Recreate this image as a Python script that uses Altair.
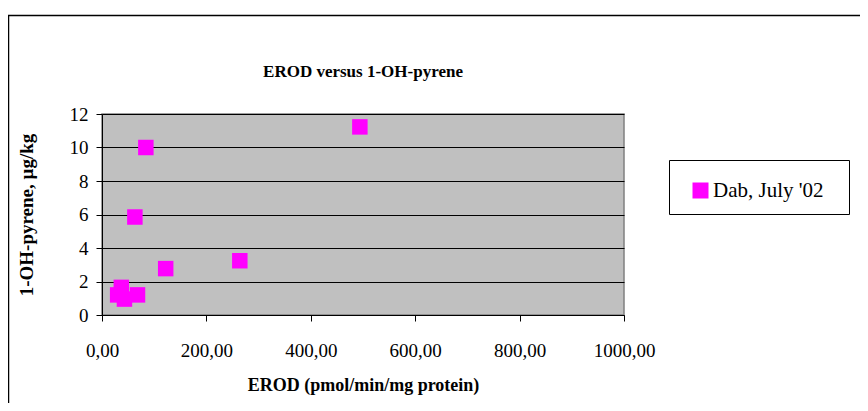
import altair as alt
import pandas as pd

# Data
erod = [30, 37, 43, 63, 68, 84, 122, 264, 494]            # EROD (pmol/min/mg protein)
oh_pyrene = [1.2, 1.65, 0.95, 5.85, 1.2, 10.0, 2.77, 3.24, 11.23]  # 1-OH-pyrene, µg/kg
series_name = "Dab, July '02"
chart_title = "EROD versus 1-OH-pyrene"
x_ticks = [0, 200, 400, 600, 800, 1000]
y_ticks = [0, 2, 4, 6, 8, 10, 12]

df = pd.DataFrame({
    "EROD": erod,
    "OHP": oh_pyrene,
    "series": [series_name] * len(erod),
})

FONT = "Liberation Serif"
W, H = 522, 201
LFS = 19

base = alt.Chart(df)

points = base.mark_square(size=240, opacity=1, filled=True).encode(
    x=alt.X(
        "EROD:Q",
        scale=alt.Scale(domain=[0, 1000], nice=False, zero=True),
        axis=alt.Axis(
            values=x_ticks,
            grid=False,
            labelExpr="replace(format(datum.value, '.2f'), '.', ',')",
            labelFont=FONT, labelFontSize=LFS, labelColor="black",
            labelPadding=20, labelFlush=False, labelOverlap=False,
            tickSize=6, tickColor="black",
            domainColor="black",
            title="EROD (pmol/min/mg protein)",
            titleFont=FONT, titleFontSize=18, titleFontWeight="bold",
            titleColor="black",
            titleX=W / 2, titleY=70, titleBaseline="middle",
        ),
    ),
    y=alt.Y(
        "OHP:Q",
        scale=alt.Scale(domain=[0, 12], nice=False),
        axis=alt.Axis(
            values=y_ticks,
            grid=True, gridColor="black", gridWidth=1, gridOpacity=1,
            labelFont=FONT, labelFontSize=LFS, labelColor="black",
            labelPadding=8, labelFlush=False, labelOverlap=False,
            tickSize=6, tickColor="black",
            domainColor="black",
            title="1-OH-pyrene, µg/kg",
            titleFont=FONT, titleFontSize=19, titleFontWeight="bold",
            titleColor="black",
            titleX=-76, titleY=H / 2, titleBaseline="middle", titleAlign="center",
            titleAngle=270,
        ),
    ),
    color=alt.Color(
        "series:N",
        scale=alt.Scale(domain=[series_name], range=["#FF00FF"]),
        legend=alt.Legend(
            title=None, orient="none", legendX=588, legendY=66, padding=0,
            symbolType="square", symbolSize=256, symbolStrokeWidth=0,
            labelFont=FONT, labelFontSize=21, labelColor="black",
            labelOffset=2,
        ),
    ),
)

one = pd.DataFrame({"k": [0]})

frame_top = alt.Chart(one).mark_rule(color="black", strokeWidth=1.5).encode(
    x=alt.value(-94), x2=alt.value(766), y=alt.value(-98.5)
)
frame_left = alt.Chart(one).mark_rule(color="black", strokeWidth=1.5).encode(
    x=alt.value(-93.5), y=alt.value(-99), y2=alt.value(300)
)

legend_box = alt.Chart(one).mark_rect(fill="white", stroke="black", strokeWidth=1).encode(
    x=alt.value(567.5), x2=alt.value(747.5), y=alt.value(46.5), y2=alt.value(100.5)
)

title_text = alt.Chart(pd.DataFrame({"t": [chart_title]})).mark_text(
    font=FONT, fontSize=17, fontWeight="bold", color="black",
    align="center", baseline="middle",
).encode(
    text="t:N", x=alt.value(W / 2), y=alt.value(-42)
)

chart = alt.layer(frame_top, frame_left, legend_box, title_text, points).properties(
    width=W,
    height=H,
    autosize=alt.AutoSizeParams(type="none"),
    padding={"left": 94, "top": 106, "right": 236, "bottom": 88},
    background="white",
).configure_view(
    fill="#C0C0C0", stroke="#808080", strokeWidth=1.5
)

chart.save("out.html", embed_options={"renderer": "svg", "actions": False})
